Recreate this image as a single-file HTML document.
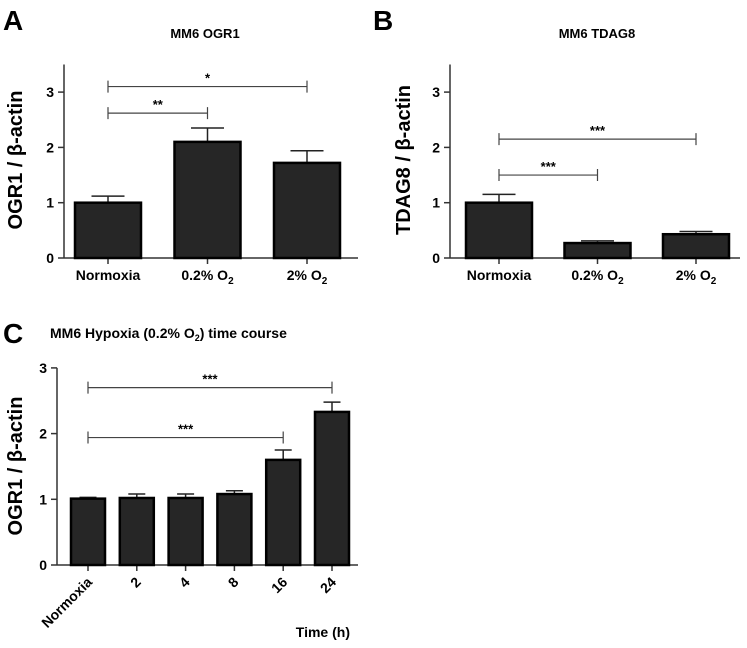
<!DOCTYPE html>
<html><head><meta charset="utf-8"><style>
body{margin:0;background:#fff;}
svg text{font-family:"Liberation Sans",Arial,sans-serif;font-weight:bold;fill:#000;}
</style></head><body>
<svg id="fig" width="747" height="643" xmlns="http://www.w3.org/2000/svg">
<text x="3" y="30" font-size="28">A</text>
<text x="205" y="38" font-size="13" text-anchor="middle">MM6 OGR1</text>
<text transform="translate(22,160) rotate(-90)" font-size="20" text-anchor="middle">OGR1 / β-actin</text>
<text x="373" y="30" font-size="28">B</text>
<text x="597" y="38" font-size="13" text-anchor="middle">MM6 TDAG8</text>
<text transform="translate(410,160) rotate(-90)" font-size="20" text-anchor="middle">TDAG8 / β-actin</text>
<text x="3" y="343" font-size="28">C</text>
<text x="50" y="338" font-size="14">MM6 Hypoxia (0.2% O<tspan font-size="9" dy="3">2</tspan><tspan dy="-3">) time course</tspan></text>
<text transform="translate(22,466) rotate(-90)" font-size="20" text-anchor="middle">OGR1 / β-actin</text>
<text x="350" y="637" font-size="14" text-anchor="end">Time (h)</text>
</svg>
<script>
const catsAB = ["Normoxia","0.2% O2","2% O2"];
const valsA = [1.0, 2.1, 1.72];
const errA = [0.12, 0.25, 0.22];
const valsB = [1.0, 0.27, 0.43];
const errB = [0.15, 0.04, 0.05];
const catsC = ["Normoxia","2","4","8","16","24"];
const valsC = [1.01, 1.02, 1.02, 1.08, 1.6, 2.33];
const errC = [0.02, 0.06, 0.06, 0.05, 0.15, 0.15];
const ticksAB = [0,1,2,3];
const ticksC = [0,1,2,3];
const NS="http://www.w3.org/2000/svg", svg=document.getElementById('fig');
function el(t,a,p){const e=document.createElementNS(NS,t);for(const k in a)e.setAttribute(k,a[k]);(p||svg).appendChild(e);return e;}
function panel(o){
  const y=v=>o.y0-v*o.ppu;
  const g=el('g',{});
  
  
  const ya=el('line',{x1:o.ax,x2:o.ax,y1:y(o.ymax),y2:o.y0,stroke:'#333','stroke-width':1.5},g);
  
  const xa=el('line',{x1:o.ax,x2:o.xend,y1:o.y0,y2:o.y0,stroke:'#333','stroke-width':1.5},g);
  
  o.ticks.forEach(t=>{
    el('line',{x1:o.ax-6,x2:o.ax,y1:y(t),y2:y(t),stroke:'#333','stroke-width':1.5},g);
    const tx=el('text',{x:o.ax-10,y:y(t)+5,'font-size':14,'text-anchor':'end'},g);
    tx.textContent=t;
    
  });
  o.cats.forEach((c,i)=>{
    const cx=o.x0+i*o.step, v=o.vals[i], e=o.errs[i];
    el('line',{x1:cx,x2:cx,y1:o.y0,y2:o.y0+6,stroke:'#333','stroke-width':1.5},g);
    el('line',{x1:cx,x2:cx,y1:y(v),y2:y(v+e),stroke:'#222','stroke-width':1.5},g);
    el('line',{x1:cx-o.bw/4,x2:cx+o.bw/4,y1:y(v+e),y2:y(v+e),stroke:'#222','stroke-width':1.5},g);
    const b=el('rect',{x:cx-o.bw/2,y:y(v),width:o.bw,height:v*o.ppu,fill:'#262626',stroke:'#000','stroke-width':2.5},g);
    
    let lab;
    if(o.rot){
      lab=el('text',{'font-size':14,'text-anchor':'end',transform:`translate(${cx+5},${o.y0+18}) rotate(-45)`},g);
      lab.textContent=c;
    } else {
      lab=el('text',{x:cx,y:o.y0+22,'font-size':14,'text-anchor':'middle'},g);
      if(c.endsWith('O2')){lab.textContent=c.slice(0,-1);const s=el('tspan',{'font-size':10,dy:4},lab);s.textContent='2';}
      else lab.textContent=c;
    }
    
  });
  o.brackets.forEach(br=>{
    const x1=o.x0+br[0]*o.step,x2=o.x0+br[1]*o.step,yy=y(br[2]);
    const bl=el('path',{d:`M${x1},${yy-6}V${yy+6}M${x1},${yy}H${x2}M${x2},${yy-6}V${yy+6}`,stroke:'#444','stroke-width':1.2,fill:'none'},g);
    
    const st=el('text',{x:(x1+x2)/2,y:yy-4,'font-size':13,'text-anchor':'middle'},g);
    st.textContent=br[3];
    
  });
}
panel({name:'panel-a-chart',ax:64,y0:258,ppu:55.3,ymax:3.5,xend:358,x0:108,step:99.5,bw:66,cats:catsAB,vals:valsA,errs:errA,ticks:ticksAB,
  brackets:[[0,1,2.62,'**'],[0,2,3.1,'*']]});
panel({name:'panel-b-chart',ax:450,y0:258,ppu:55.3,ymax:3.5,xend:740,x0:499,step:98.5,bw:66,cats:catsAB,vals:valsB,errs:errB,ticks:ticksAB,
  brackets:[[0,1,1.5,'***'],[0,2,2.15,'***']]});
panel({name:'panel-c-chart',ax:57,y0:565,ppu:65.7,ymax:3,xend:358,x0:88,step:48.8,bw:34,cats:catsC,vals:valsC,errs:errC,ticks:ticksC,rot:true,
  brackets:[[0,4,1.94,'***'],[0,5,2.7,'***']]});
</script>
</body></html>
